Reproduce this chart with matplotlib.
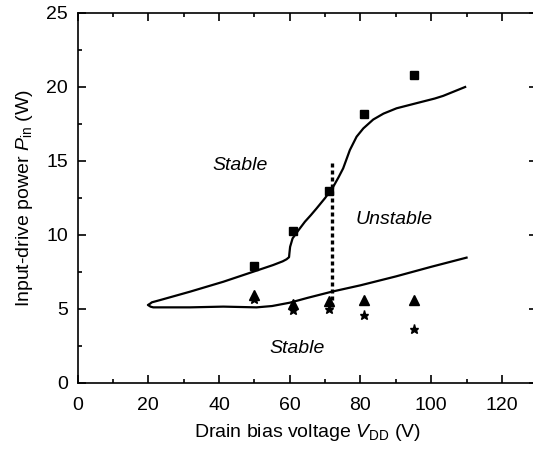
import matplotlib
matplotlib.use('Agg')
import matplotlib.pyplot as plt
from matplotlib.ticker import MultipleLocator

plt.rcParams['font.family'] = ['Liberation Sans', 'DejaVu Sans']
plt.rcParams['mathtext.fontset'] = 'custom'
plt.rcParams['mathtext.rm'] = 'Liberation Sans'
plt.rcParams['mathtext.it'] = 'Liberation Sans:italic'

# measured points
vdd = [50, 61, 71, 81, 95]
p_square = [7.9, 10.3, 13.0, 18.2, 20.8]
p_triangle = [5.95, 5.35, 5.55, 5.6, 5.6]
p_star = [5.7, 4.9, 5.0, 4.6, 3.65]

# stability boundary, upper branch
upper_x = [20, 21.0, 23.3, 31.8, 41.2, 49.7, 55.3, 58.0, 59.1, 59.8, 59.9, 60.1, 60.8,
           62.4, 64.3, 66.0, 67.6, 70.0, 72.3, 73.8, 75.1, 77.0, 78.9, 80.8, 83.6,
           86.5, 90.2, 96.4, 101.0, 103.4, 106.5, 109.6]
upper_y = [5.27, 5.45, 5.6, 6.17, 6.84, 7.52, 7.97, 8.22, 8.36, 8.5, 8.76, 9.2, 9.77,
           10.3, 10.9, 11.35, 11.8, 12.5, 13.26, 13.9, 14.5, 15.74, 16.64, 17.2, 17.8,
           18.2, 18.56, 18.94, 19.22, 19.4, 19.7, 20.0]

# lower branch
lower_x = [20, 20.6, 21.4, 31.8, 41.2, 50.6, 55.0, 60.1, 65.0, 71.9, 80, 90, 100, 110]
lower_y = [5.27, 5.16, 5.11, 5.11, 5.16, 5.11, 5.2, 5.43, 5.75, 6.17, 6.6, 7.2, 7.85, 8.47]

# dotted divider
div_x = [72, 72]
div_y = [5.15, 14.9]

fig = plt.figure(figsize=(5.33, 4.51), dpi=100)
ax = fig.add_axes([0.1456, 0.1508, 0.8624, 0.8204])

ax.plot(upper_x, upper_y, color='black', lw=1.6, solid_joinstyle='round')
ax.plot(lower_x, lower_y, color='black', lw=1.6, solid_joinstyle='round')
ax.plot(div_x, div_y, color='black', lw=2.4, linestyle=(0, (1.2, 0.9)))

ax.plot(vdd, p_square, 's', color='black', ms=5.5)
ax.plot(vdd, p_triangle, '^', color='black', ms=6.5)
ax.plot(vdd, p_star, '*', color='black', ms=6.5)

ax.text(45.9, 14.7, 'Stable', style='italic', fontsize=14, ha='center', va='center')
ax.text(89.6, 11.06, 'Unstable', style='italic', fontsize=14, ha='center', va='center')
ax.text(62.2, 2.3, 'Stable', style='italic', fontsize=14, ha='center', va='center')

ax.set_xlim(0, 130)
ax.set_ylim(0, 25)
ax.xaxis.set_major_locator(MultipleLocator(20))
ax.xaxis.set_minor_locator(MultipleLocator(10))
ax.yaxis.set_major_locator(MultipleLocator(5))
ax.yaxis.set_minor_locator(MultipleLocator(2.5))
ax.tick_params(which='both', direction='in', top=True, right=True, labelsize=14, width=1.2)
ax.tick_params(which='major', length=5.5)
ax.tick_params(which='minor', length=3)
ax.tick_params(axis='x', which='major', pad=10)
ax.tick_params(axis='y', which='major', pad=7)
for s in ax.spines.values():
    s.set_linewidth(1.2)

ax.set_xlabel(r'Drain bias voltage $V_{\rm DD}$ (V)', fontsize=14, labelpad=6)
ax.set_ylabel(r'Input-drive power $P_{\rm in}$ (W)', fontsize=14, labelpad=8)

fig.savefig('out.png', dpi=100)
